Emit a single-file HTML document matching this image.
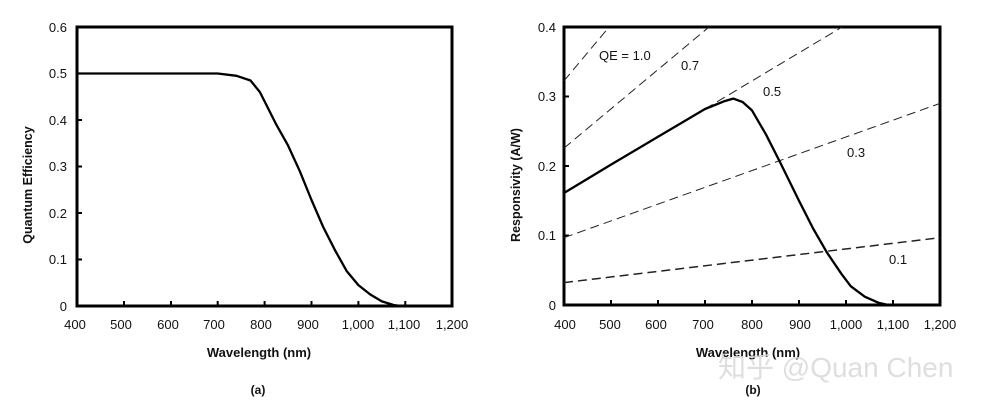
<!DOCTYPE html>
<html><head><meta charset="utf-8"><style>
html,body{margin:0;padding:0;background:#fff;}
svg{display:block;font-family:"Liberation Sans",Arial,sans-serif;}
</style></head><body>
<svg width="996" height="409" viewBox="0 0 996 409" xmlns="http://www.w3.org/2000/svg">
<rect width="996" height="409" fill="#fff"/>
<!-- LEFT CHART -->
<g font-size="13" fill="#111">
<rect x="77" y="27" width="375" height="279" fill="none" stroke="#000" stroke-width="3"/>
<g stroke="#000" stroke-width="2">
<line x1="124" y1="306" x2="124" y2="301"/><line x1="171" y1="306" x2="171" y2="301"/><line x1="217.7" y1="306" x2="217.7" y2="301"/><line x1="264.6" y1="306" x2="264.6" y2="301"/><line x1="311.5" y1="306" x2="311.5" y2="301"/><line x1="358.4" y1="306" x2="358.4" y2="301"/><line x1="405.3" y1="306" x2="405.3" y2="301"/>
<line x1="77" y1="259.5" x2="82" y2="259.5"/><line x1="77" y1="213" x2="82" y2="213"/><line x1="77" y1="166.5" x2="82" y2="166.5"/><line x1="77" y1="120" x2="82" y2="120"/><line x1="77" y1="73.5" x2="82" y2="73.5"/>
</g>
<g text-anchor="end">
<text x="67" y="311">0</text><text x="67" y="264">0.1</text><text x="67" y="218">0.2</text><text x="67" y="171">0.3</text><text x="67" y="125">0.4</text><text x="67" y="78">0.5</text><text x="67" y="32">0.6</text>
</g>
<g text-anchor="middle">
<text x="75" y="329">400</text><text x="121" y="329">500</text><text x="168" y="329">600</text><text x="214" y="329">700</text><text x="261" y="329">800</text><text x="308" y="329">900</text><text x="358" y="329">1,000</text><text x="404" y="329">1,100</text><text x="452" y="329">1,200</text>
<text x="259" y="357" font-weight="bold">Wavelength  (nm)</text>
<text x="258" y="394" font-weight="bold" font-size="12">(a)</text>
</g>
<text transform="translate(32,185) rotate(-90)" text-anchor="middle" font-weight="bold" font-size="12.5">Quantum Efficiency</text>
<polyline fill="none" stroke="#000" stroke-width="2.3" stroke-linejoin="round" points="77,73.5 217.7,73.5 236.5,75.8 250.5,80.5 259.9,92.1 264.6,101.4 276.3,124.6 288.1,145.6 299.8,171.2 311.5,200 323.2,227 335,250.2 346.7,271.1 358.4,285.1 370.1,294.4 381.9,301.4 393.6,305 400.6,306"/>
</g>
<!-- RIGHT CHART -->
<g font-size="13" fill="#111">
<rect x="564" y="27" width="376" height="278" fill="none" stroke="#000" stroke-width="3"/>
<g stroke="#000" stroke-width="2">
<line x1="611" y1="305" x2="611" y2="300"/><line x1="658" y1="305" x2="658" y2="300"/><line x1="705" y1="305" x2="705" y2="300"/><line x1="752" y1="305" x2="752" y2="300"/><line x1="799" y1="305" x2="799" y2="300"/><line x1="846" y1="305" x2="846" y2="300"/><line x1="893" y1="305" x2="893" y2="300"/>
<line x1="564" y1="235.5" x2="569" y2="235.5"/><line x1="564" y1="166" x2="569" y2="166"/><line x1="564" y1="96.5" x2="569" y2="96.5"/>
</g>
<g text-anchor="end">
<text x="556" y="310">0</text><text x="556" y="240">0.1</text><text x="556" y="171">0.2</text><text x="556" y="101">0.3</text><text x="556" y="32">0.4</text>
</g>
<g text-anchor="middle">
<text x="565" y="329">400</text><text x="610" y="329">500</text><text x="656" y="329">600</text><text x="703" y="329">700</text><text x="752" y="329">800</text><text x="800" y="329">900</text><text x="846" y="329">1,000</text><text x="893" y="329">1,100</text><text x="940" y="329">1,200</text>
<text x="748" y="357" font-weight="bold">Wavelength  (nm)</text>
<text x="753" y="394" font-weight="bold" font-size="12">(b)</text>
</g>
<text transform="translate(520,185) rotate(-90)" text-anchor="middle" font-weight="bold" font-size="12.5">Responsivity (A/W)</text>
<g fill="none" stroke="#222" stroke-width="1" stroke-dasharray="9,5">
<line x1="564" y1="80.8" x2="609.1" y2="27"/>
<line x1="564" y1="148.1" x2="709" y2="27"/>
<line x1="705" y1="109" x2="842.2" y2="27"/>
<line x1="564" y1="237.7" x2="940" y2="103.4"/>
<line x1="564" y1="282.6" x2="940" y2="237.7" stroke-width="1.5"/>
</g>
<polyline fill="none" stroke="#000" stroke-width="2.3" stroke-linejoin="round" points="564,193 611,164.6 658,136.8 705,109 723.8,101.4 733.2,98.6 742.6,102 752,110.4 766.1,134.7 780.2,162.5 799,200.7 813.1,228.5 827.2,252.9 841.3,273.7 850.7,286.2 864.8,296.7 878.9,302.9 888.3,305"/>
<text x="599" y="60">QE = 1.0</text>
<text x="681" y="70">0.7</text>
<text x="763" y="96">0.5</text>
<text x="847" y="157">0.3</text>
<text x="889" y="264">0.1</text>
</g>
<text x="718" y="377" font-size="28" fill="#d8d8d8" fill-opacity="0.85" font-family="'Liberation Sans','Noto Sans CJK SC',sans-serif">知乎 @Quan Chen</text>
</svg>
</body></html>
